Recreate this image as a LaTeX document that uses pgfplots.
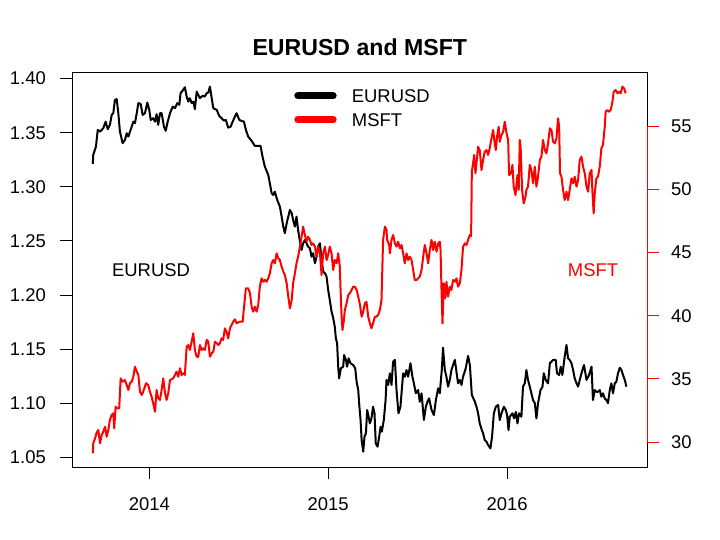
\documentclass[border=0pt]{standalone}
\usepackage{fontspec}
\setmainfont{Liberation Sans}
\usepackage{pgfplots}
\usepackage{pgfplotstable}
\pgfplotsset{compat=1.18}
\newcommand{\lblfont}{\fontsize{18.5}{22}\selectfont}
\newcommand{\titlefont}{\fontsize{23.2}{27}\selectfont\bfseries}

\pgfplotstableread{
x y
2013.684 1.3211
2013.687 1.3295
2013.702 1.3371
2013.712 1.3526
2013.725 1.3510
2013.743 1.3541
2013.756 1.3602
2013.768 1.3532
2013.780 1.3572
2013.790 1.3664
2013.799 1.3680
2013.808 1.3803
2013.818 1.3810
2013.827 1.3680
2013.836 1.3510
2013.851 1.3403
2013.864 1.3433
2013.874 1.3495
2013.883 1.3464
2013.896 1.3526
2013.911 1.3602
2013.920 1.3588
2013.930 1.3680
2013.939 1.3773
2013.952 1.3766
2013.963 1.3664
2013.976 1.3680
2013.989 1.3778
2014.000 1.3711
2014.008 1.3618
2014.022 1.3634
2014.032 1.3602
2014.041 1.3671
2014.050 1.3572
2014.060 1.3680
2014.069 1.3680
2014.082 1.3556
2014.092 1.3517
2014.101 1.3588
2014.116 1.3680
2014.131 1.3741
2014.144 1.3726
2014.156 1.3773
2014.168 1.3757
2014.175 1.3865
2014.190 1.3896
2014.199 1.3920
2014.209 1.3834
2014.218 1.3787
2014.227 1.3819
2014.237 1.3773
2014.246 1.3787
2014.255 1.3717
2014.265 1.3880
2014.274 1.3849
2014.283 1.3819
2014.298 1.3840
2014.311 1.3834
2014.321 1.3865
2014.330 1.3871
2014.339 1.3926
2014.349 1.3819
2014.358 1.3726
2014.377 1.3711
2014.391 1.3655
2014.404 1.3634
2014.417 1.3612
2014.428 1.3618
2014.441 1.3547
2014.455 1.3556
2014.466 1.3602
2014.479 1.3649
2014.488 1.3680
2014.503 1.3618
2014.516 1.3609
2014.529 1.3602
2014.540 1.3526
2014.553 1.3464
2014.572 1.3424
2014.590 1.3378
2014.609 1.3378
2014.622 1.3378
2014.633 1.3279
2014.646 1.3186
2014.665 1.3110
2014.674 1.3033
2014.684 1.2941
2014.693 1.2925
2014.702 1.2955
2014.715 1.2879
2014.730 1.2817
2014.740 1.2724
2014.749 1.2632
2014.758 1.2571
2014.768 1.2663
2014.777 1.2724
2014.786 1.2786
2014.796 1.2756
2014.804 1.2694
2014.814 1.2632
2014.823 1.2724
2014.832 1.2601
2014.839 1.2527
2014.851 1.2416
2014.860 1.2478
2014.870 1.2509
2014.879 1.2478
2014.888 1.2447
2014.898 1.2432
2014.907 1.2354
2014.916 1.2386
2014.926 1.2294
2014.935 1.2354
2014.944 1.2447
2014.954 1.2478
2014.963 1.2324
2014.972 1.2216
2014.982 1.2201
2014.991 1.2170
2015.000 1.2047
2015.009 1.1954
2015.019 1.1846
2015.028 1.1788
2015.037 1.1707
2015.043 1.1600
2015.050 1.1554
2015.056 1.1338
2015.061 1.1230
2015.071 1.1323
2015.084 1.1338
2015.089 1.1446
2015.099 1.1400
2015.106 1.1338
2015.114 1.1415
2015.125 1.1369
2015.140 1.1353
2015.151 1.1323
2015.159 1.1199
2015.168 1.1122
2015.173 1.1000
2015.181 1.0845
2015.187 1.0660
2015.196 1.0552
2015.203 1.0690
2015.211 1.0722
2015.218 1.0937
2015.226 1.0875
2015.233 1.0814
2015.242 1.0860
2015.251 1.0968
2015.259 1.0907
2015.266 1.0629
2015.276 1.0598
2015.285 1.0690
2015.293 1.0783
2015.300 1.0737
2015.311 1.0845
2015.321 1.1030
2015.326 1.1215
2015.335 1.1169
2015.345 1.1277
2015.354 1.1169
2015.363 1.1384
2015.373 1.1400
2015.382 1.1122
2015.393 1.0907
2015.404 1.0968
2015.419 1.1277
2015.428 1.1245
2015.438 1.1307
2015.447 1.1245
2015.460 1.1369
2015.471 1.1245
2015.479 1.1184
2015.490 1.1092
2015.503 1.1122
2015.512 1.1014
2015.522 1.1092
2015.535 1.0845
2015.546 1.0968
2015.555 1.1014
2015.564 1.1045
2015.578 1.0937
2015.591 1.0891
2015.602 1.1030
2015.615 1.1138
2015.624 1.1092
2015.635 1.1307
2015.642 1.1513
2015.652 1.1307
2015.661 1.1245
2015.670 1.1153
2015.680 1.1215
2015.689 1.1307
2015.698 1.1353
2015.708 1.1400
2015.717 1.1292
2015.726 1.1184
2015.736 1.1215
2015.745 1.1169
2015.754 1.1245
2015.769 1.1323
2015.782 1.1437
2015.792 1.1353
2015.803 1.1076
2015.820 1.1014
2015.829 1.0968
2015.838 1.0907
2015.847 1.0814
2015.859 1.0752
2015.866 1.0722
2015.875 1.0660
2015.885 1.0644
2015.894 1.0614
2015.907 1.0583
2015.916 1.0690
2015.926 1.0907
2015.937 1.0968
2015.950 1.0984
2015.959 1.0845
2015.969 1.0907
2015.982 1.0968
2015.993 1.0937
2016.000 1.0891
2016.008 1.0752
2016.015 1.0875
2016.030 1.0907
2016.039 1.0860
2016.049 1.0921
2016.058 1.0814
2016.067 1.0907
2016.080 1.0875
2016.089 1.1153
2016.099 1.1184
2016.108 1.1307
2016.117 1.1215
2016.127 1.1153
2016.136 1.1092
2016.145 1.1030
2016.155 1.1000
2016.164 1.0860
2016.173 1.1000
2016.187 1.1122
2016.198 1.1153
2016.205 1.1277
2016.216 1.1215
2016.229 1.1184
2016.239 1.1369
2016.248 1.1384
2016.257 1.1400
2016.272 1.1400
2016.279 1.1277
2016.291 1.1261
2016.300 1.1338
2016.309 1.1261
2016.322 1.1430
2016.332 1.1538
2016.341 1.1415
2016.350 1.1400
2016.360 1.1369
2016.369 1.1307
2016.378 1.1230
2016.388 1.1184
2016.397 1.1153
2016.406 1.1215
2016.421 1.1307
2016.430 1.1353
2016.444 1.1215
2016.458 1.1261
2016.472 1.1338
2016.480 1.1030
2016.490 1.1122
2016.499 1.1106
2016.508 1.1106
2016.518 1.1122
2016.527 1.1060
2016.536 1.1092
2016.546 1.1045
2016.555 1.1030
2016.564 1.1000
2016.574 1.1122
2016.583 1.1184
2016.592 1.1092
2016.602 1.1184
2016.611 1.1199
2016.620 1.1277
2016.630 1.1328
2016.639 1.1307
2016.648 1.1261
2016.658 1.1215
2016.667 1.1153
}\eurusd

\pgfplotstableread{
x y
2013.684 29.11
2013.687 29.90
2013.697 30.29
2013.706 30.74
2013.715 30.95
2013.725 29.90
2013.734 30.55
2013.743 30.82
2013.753 31.21
2013.762 30.42
2013.771 30.95
2013.780 31.74
2013.790 32.14
2013.799 32.27
2013.804 31.08
2013.812 32.80
2013.821 32.67
2013.832 32.67
2013.840 35.04
2013.851 34.78
2013.864 34.91
2013.874 34.51
2013.883 34.12
2013.892 34.65
2013.902 34.78
2013.911 35.17
2013.920 35.96
2013.930 35.57
2013.939 35.31
2013.948 33.98
2013.958 33.72
2013.966 33.98
2013.982 34.65
2013.994 34.51
2014.004 33.98
2014.013 33.59
2014.022 33.06
2014.032 32.40
2014.041 34.12
2014.050 33.46
2014.060 33.33
2014.069 34.12
2014.078 35.04
2014.088 33.86
2014.097 33.33
2014.106 33.86
2014.116 34.91
2014.134 35.04
2014.153 35.57
2014.162 35.17
2014.172 35.84
2014.181 35.31
2014.190 35.44
2014.199 35.31
2014.209 37.55
2014.218 37.68
2014.227 37.29
2014.237 37.94
2014.246 38.61
2014.255 37.29
2014.265 36.75
2014.274 36.75
2014.283 37.68
2014.293 37.29
2014.302 37.42
2014.311 37.29
2014.321 38.08
2014.330 37.94
2014.339 36.75
2014.349 37.02
2014.358 37.15
2014.367 37.94
2014.377 37.82
2014.386 37.68
2014.395 37.82
2014.404 38.21
2014.413 38.08
2014.423 39.00
2014.432 38.73
2014.441 38.21
2014.451 39.00
2014.460 39.27
2014.469 39.53
2014.479 39.72
2014.488 39.40
2014.507 39.53
2014.522 39.53
2014.529 40.59
2014.540 42.17
2014.553 42.17
2014.563 41.78
2014.572 40.71
2014.581 40.32
2014.590 40.71
2014.600 40.32
2014.609 40.85
2014.618 42.30
2014.628 42.96
2014.637 42.69
2014.646 42.83
2014.656 42.69
2014.665 42.96
2014.674 43.36
2014.684 44.15
2014.693 44.41
2014.702 44.15
2014.712 44.94
2014.721 44.55
2014.730 44.41
2014.740 43.88
2014.749 43.49
2014.758 43.22
2014.768 42.57
2014.777 41.51
2014.786 40.59
2014.796 41.24
2014.804 42.57
2014.814 43.36
2014.823 44.15
2014.832 44.67
2014.842 45.47
2014.851 46.26
2014.860 47.05
2014.870 46.39
2014.879 45.86
2014.888 46.26
2014.898 46.00
2014.907 45.60
2014.916 45.73
2014.926 45.47
2014.935 44.67
2014.944 45.47
2014.954 44.94
2014.963 43.22
2014.972 44.94
2014.982 45.47
2014.991 44.41
2015.000 44.81
2015.009 45.47
2015.019 44.94
2015.028 43.62
2015.037 44.41
2015.047 44.15
2015.056 44.94
2015.065 43.88
2015.069 42.17
2015.075 39.92
2015.080 38.87
2015.088 39.66
2015.093 40.45
2015.103 40.98
2015.112 41.64
2015.121 41.78
2015.131 42.04
2015.140 42.30
2015.149 42.30
2015.159 42.04
2015.168 41.51
2015.178 40.85
2015.187 39.92
2015.196 40.32
2015.205 40.98
2015.214 41.11
2015.224 39.92
2015.233 39.40
2015.242 39.00
2015.251 39.40
2015.261 39.92
2015.270 39.92
2015.279 40.06
2015.289 40.45
2015.298 41.24
2015.307 46.00
2015.317 47.05
2015.326 46.79
2015.330 46.00
2015.341 45.60
2015.345 44.94
2015.354 46.00
2015.363 46.39
2015.373 45.73
2015.382 45.47
2015.391 45.86
2015.401 45.34
2015.410 45.60
2015.419 44.94
2015.428 44.15
2015.438 44.94
2015.447 44.41
2015.456 44.67
2015.466 44.41
2015.475 43.62
2015.484 42.83
2015.494 42.83
2015.503 42.96
2015.512 43.09
2015.522 43.62
2015.531 44.67
2015.540 45.60
2015.550 44.94
2015.559 44.15
2015.568 45.20
2015.578 46.00
2015.587 45.20
2015.596 45.86
2015.606 45.07
2015.615 45.73
2015.624 45.86
2015.628 45.20
2015.634 41.78
2015.639 39.40
2015.646 42.57
2015.654 41.38
2015.661 42.69
2015.670 41.51
2015.680 42.30
2015.689 42.04
2015.698 42.83
2015.708 42.69
2015.717 42.96
2015.726 42.30
2015.736 42.57
2015.745 43.62
2015.754 45.47
2015.764 45.73
2015.773 45.60
2015.782 46.00
2015.792 46.39
2015.799 46.31
2015.803 51.41
2015.810 52.07
2015.816 52.73
2015.823 51.28
2015.829 52.07
2015.838 53.38
2015.847 53.12
2015.857 51.54
2015.866 52.33
2015.875 52.99
2015.885 53.12
2015.894 52.73
2015.903 53.26
2015.913 54.05
2015.922 54.71
2015.931 53.65
2015.937 53.12
2015.944 54.18
2015.953 54.97
2015.959 53.78
2015.969 54.31
2015.978 54.57
2015.987 55.36
2015.997 54.45
2016.006 53.92
2016.011 51.14
2016.021 51.28
2016.030 51.94
2016.037 50.22
2016.047 49.56
2016.058 51.14
2016.065 49.96
2016.071 53.92
2016.076 53.26
2016.084 49.96
2016.093 48.90
2016.103 49.42
2016.108 49.96
2016.117 50.22
2016.127 51.94
2016.136 51.54
2016.145 50.49
2016.155 51.80
2016.164 50.22
2016.173 51.01
2016.183 52.33
2016.192 52.59
2016.201 53.92
2016.211 53.12
2016.220 52.86
2016.229 53.65
2016.239 54.84
2016.248 54.71
2016.257 53.78
2016.267 53.65
2016.276 54.05
2016.285 55.63
2016.291 54.97
2016.296 51.28
2016.304 51.01
2016.313 49.96
2016.322 49.16
2016.332 49.82
2016.341 49.16
2016.350 49.96
2016.360 50.88
2016.369 50.49
2016.378 51.01
2016.388 50.22
2016.397 50.75
2016.406 52.33
2016.416 52.59
2016.425 51.80
2016.434 51.28
2016.444 50.22
2016.453 49.82
2016.462 51.28
2016.472 51.54
2016.477 49.82
2016.484 48.11
2016.490 49.69
2016.499 50.88
2016.508 51.01
2016.518 51.80
2016.527 53.26
2016.536 53.52
2016.546 54.97
2016.551 56.16
2016.561 56.29
2016.570 56.16
2016.579 56.29
2016.589 56.95
2016.596 57.74
2016.607 57.87
2016.617 57.61
2016.626 57.74
2016.635 57.61
2016.645 58.14
2016.654 58.01
2016.663 57.61
}\msft

\begin{document}
\begin{tikzpicture}
\path[use as bounding box] (0,0) rectangle (720bp,540bp);
\begin{axis}[
  at={(72.3bp,72.7bp)}, anchor=south west,
  scale only axis, width=575bp, height=395bp,
  xmin=2013.5698, xmax=2016.7838,
  ymin=1.0408, ymax=1.4058,
  clip=false,
  xtick={2014,2015,2016}, xticklabels={2014,2015,2016},
  ytick={1.05,1.10,1.15,1.20,1.25,1.30,1.35,1.40},
  yticklabels={1.05,1.10,1.15,1.20,1.25,1.30,1.35,1.40},
  xtick pos=left, ytick pos=left,
  tick align=outside, major tick length=12bp,
  axis line style={line width=1bp, black},
  major tick style={line width=1bp, black},
  /pgf/number format/assume math mode=true,
  tick label style={font=\lblfont},
  yticklabel style={anchor=east, inner sep=0pt, xshift=-14.3bp},
  xticklabel style={anchor=north, inner sep=0pt, yshift=-17.7bp},
  title={EURUSD and MSFT},
  title style={font=\titlefont, anchor=base, at={(0.5,1)}, yshift=10.6bp, inner sep=0pt},
]
\addplot[black, line width=2bp, line join=round] table[x=x, y=y] {\eurusd};
\end{axis}
\begin{axis}[
  at={(72.3bp,72.7bp)}, anchor=south west,
  scale only axis, width=575bp, height=395bp,
  xmin=2013.5698, xmax=2016.7838,
  ymin=27.997, ymax=59.276,
  clip=false,
  axis x line=none, axis y line*=right,
  y axis line style={draw=none},
  ytick={30,35,40,45,50,55}, yticklabels={30,35,40,45,50,55},
  tick align=outside, major tick length=12bp,
  major tick style={line width=1bp, red},
  /pgf/number format/assume math mode=true,
  tick label style={font=\lblfont},
  yticklabel style={anchor=west, inner sep=0pt, xshift=11.7bp, black},
]
\draw[red, line width=1bp] (axis cs:2016.7838,30) -- (axis cs:2016.7838,55);
\addplot[red, line width=2bp, line join=round] table[x=x, y=y] {\msft};
\draw[black, line width=7bp, line cap=round] (rel axis cs:0.3922,0.9405) -- (rel axis cs:0.4537,0.9405);
\draw[red, line width=7bp, line cap=round] (rel axis cs:0.3922,0.8800) -- (rel axis cs:0.4537,0.8800);
\node[anchor=west, inner sep=0pt, font=\lblfont] at (rel axis cs:0.4859,0.9390) {EURUSD};
\node[anchor=west, inner sep=0pt, font=\lblfont] at (rel axis cs:0.4859,0.8792) {MSFT};
\node[inner sep=0pt, font=\lblfont] at (rel axis cs:0.1369,0.4982) {EURUSD};
\node[inner sep=0pt, font=\lblfont, red] at (rel axis cs:0.9056,0.4982) {MSFT};
\end{axis}
\end{tikzpicture}
\end{document}
